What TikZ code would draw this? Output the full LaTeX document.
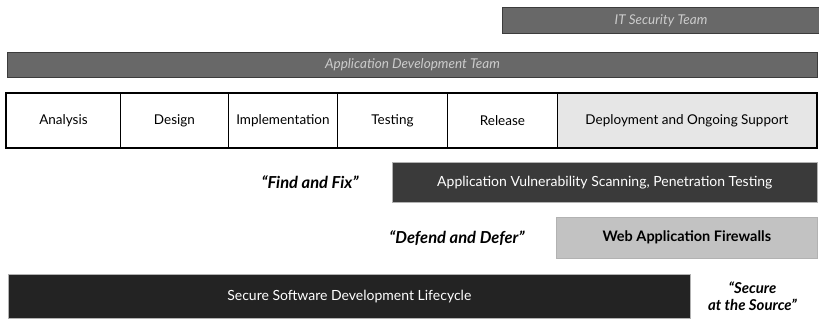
\documentclass[tikz,border=0pt]{standalone}
\usepackage{fontspec}
\setmainfont{Lato}
\usepackage{xcolor}
\usetikzlibrary{positioning}
\definecolor{teamgray}{HTML}{686868}
\definecolor{teamedge}{HTML}{3C3C3C}
\definecolor{supportgray}{HTML}{E6E6E6}
\definecolor{scangray}{HTML}{3A3A3A}
\definecolor{wafgray}{HTML}{C2C2C2}
\definecolor{ssdlgray}{HTML}{232323}

\tikzset{
  teambar/.style={draw=teamedge, line width=1pt, fill=teamgray, text=white!80!black,
    font=\itshape\fontsize{13.5}{16}\selectfont, inner sep=0pt, anchor=north west},
  phase/.style={draw=black, line width=0.9pt, fill=white, font=\fontsize{13.5}{16}\selectfont,
    inner sep=0pt, anchor=north west, minimum height=54pt},
  practice/.style={draw=black!30, line width=0.6pt, inner sep=0pt, anchor=north west,
    font=\fontsize{14}{16}\selectfont},
  motto/.style={font=\bfseries\itshape\fontsize{16.5}{17}\selectfont, align=center}
}

\begin{document}
\begin{tikzpicture}[x=1pt, y=-1pt]
  \useasboundingbox (0,0) rectangle (819,326);

  % Teams
  \node[teambar, minimum width=317pt, minimum height=26pt] (itsec) at (502,7) {IT Security Team};
  \node[teambar, minimum width=810pt, minimum height=25pt] (appdev) at (7,52) {Application Development Team};

  % Lifecycle phases
  \node[phase, minimum width=114pt] (analysis) at (6,93) {Analysis};
  \node[phase, minimum width=108pt] (design) at (120,93) {Design};
  \node[phase, minimum width=109pt] (impl) at (228,93) {Implementation};
  \node[phase, minimum width=110pt] (testing) at (337,93) {Testing};
  \node[phase, minimum width=110pt] (release) at (447,93) {Release};
  \node[phase, minimum width=259pt, fill=supportgray] (support) at (557,93) {Deployment and Ongoing Support};
  \draw[line width=2.4pt] (analysis.north west) rectangle (support.south east);

  % Practices
  \node[practice, fill=scangray, text=white, minimum width=425pt, minimum height=40pt] (scan) at (392,162)
    {Application Vulnerability Scanning, Penetration Testing};
  \node[motto, left=30pt of scan] (findfix) {“Find and Fix”};

  \node[practice, fill=wafgray, text=black, font=\bfseries\fontsize{14.5}{16}\selectfont,
    minimum width=261pt, minimum height=41pt] (waf) at (556,217)
    {Web Application Firewalls};
  \node[motto, left=28pt of waf] (defend) {“Defend and Defer”};

  \node[practice, fill=ssdlgray, text=white, minimum width=682pt, minimum height=44pt] (ssdl) at (8,274)
    {Secure Software Development Lifecycle};
  \node[motto, font=\bfseries\itshape\fontsize{15}{17}\selectfont, right=14pt of ssdl] (source)
    {“Secure\\at the Source”};
\end{tikzpicture}
\end{document}
